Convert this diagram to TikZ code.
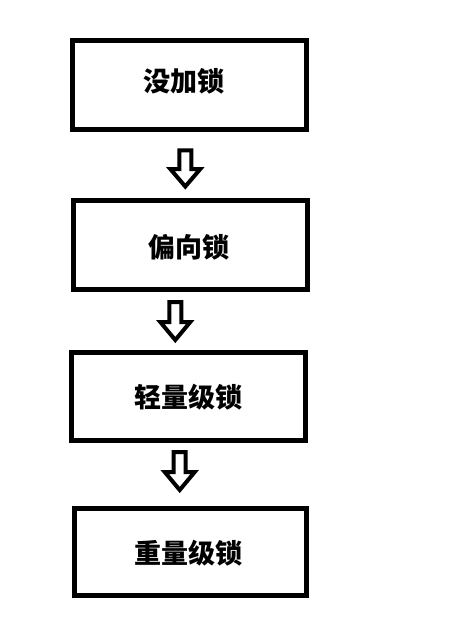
\documentclass[tikz,border=0pt]{standalone}
\usepackage{fontspec}
\newfontfamily\cjk{Noto Sans CJK SC}
\tikzset{
  box/.style={draw=black, line width=5pt, fill=white, minimum width=234pt, minimum height=89pt, inner sep=0pt},
  lbl/.style={font=\cjk\bfseries\fontsize{27}{30}\selectfont, inner sep=0pt},
  blockarrow/.style={draw=black, line width=4pt, line join=miter, fill=white},
  pics/downarrow/.style n args={3}{code={
    % #1 = top, #2 = base of head, #3 = tip (relative y), x centred at 0
    \path[blockarrow] (-6,#1) -- (6,#1) -- (6,#2) -- (15,#2) -- (0,#3) -- (-15,#2) -- (-6,#2) -- cycle;
  }}
}
\begin{document}
\begin{tikzpicture}[x=1pt,y=-1pt]
\useasboundingbox (0,0) rectangle (452,637);
\fill[white] (0,0) rectangle (452,637);
\node[box] (b1) at (189.5,85) {};
\node[box] (b2) at (190.5,245) {};
\node[box, minimum height=88pt] (b3) at (188.5,396.5) {};
\node[box, minimum width=232pt, minimum height=87pt] (b4) at (190.5,552) {};
\node[lbl] (t1) at (184,81) {没加锁};
\node[lbl] (t2) at (188.5,247) {偏向锁};
\node[lbl] (t3) at (188.5,397.5) {轻量级锁};
\node[lbl] (t4) at (188,553) {重量级锁};
\pic (a1) at (185.3,0) {downarrow={150.3}{169}{186.5}};
\pic (a2) at (175.3,0) {downarrow={302}{322}{340}};
\pic (a3) at (179.7,0) {downarrow={452}{472}{490}};
\end{tikzpicture}
\end{document}
